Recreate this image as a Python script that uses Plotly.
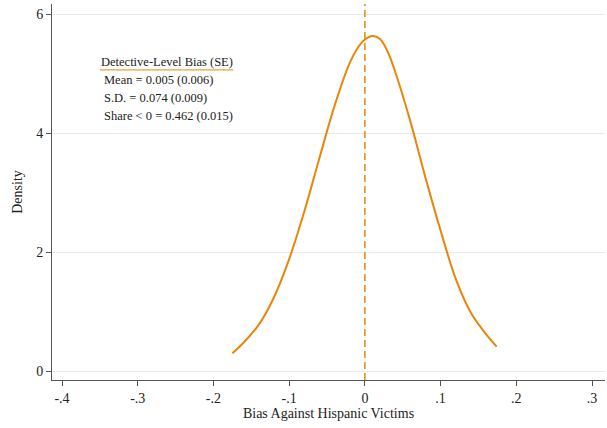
import plotly.graph_objects as go

# Kernel density of detective-level bias
bias_x = [-0.175, -0.16, -0.14, -0.12, -0.10, -0.08, -0.06, -0.04, -0.02, -0.01, 0.0, 0.01,
          0.02, 0.03, 0.04, 0.06, 0.08, 0.10, 0.12, 0.14, 0.16, 0.174]
density_y = [0.30, 0.48, 0.78, 1.24, 1.88, 2.68, 3.58, 4.46, 5.18, 5.42, 5.57, 5.63,
             5.58, 5.37, 5.03, 4.20, 3.25, 2.36, 1.55, 0.98, 0.62, 0.41]

x_ticks = [-0.4, -0.3, -0.2, -0.1, 0, 0.1, 0.2, 0.3]
x_tick_labels = ["-.4", "-.3", "-.2", "-.1", "0", ".1", ".2", ".3"]
y_ticks = [0, 2, 4, 6]
y_tick_labels = ["0", "2", "4", "6"]

legend_title = "Detective-Level Bias (SE)"
legend_lines = ["Mean = 0.005 (0.006)", "S.D. = 0.074 (0.009)", "Share < 0 = 0.462 (0.015)"]

ORANGE = "rgb(232,134,12)"
FONT = "Liberation Serif"

fig = go.Figure()
fig.add_trace(go.Scatter(x=bias_x, y=density_y, mode="lines",
                         line=dict(color=ORANGE, width=2, shape="spline", smoothing=1),
                         hoverinfo="skip", showlegend=False))

fig.add_shape(type="line", xref="x", yref="paper", x0=0, x1=0, y0=0, y1=1,
              line=dict(color=ORANGE, width=1.5, dash="7px,4px"))

# legend box text
fig.add_annotation(x=-0.351, y=5.19, xref="x", yref="y", text=legend_title,
                   showarrow=False, xanchor="left", yanchor="middle",
                   font=dict(family=FONT, size=12.5, color="#222"))
fig.add_shape(type="line", xref="x", yref="y", x0=-0.350, x1=-0.174, y0=5.06, y1=5.06,
              line=dict(color=ORANGE, width=1))
for i, t in enumerate(legend_lines):
    fig.add_annotation(x=-0.347, y=4.89 - 0.30 * i, xref="x", yref="y", text=t,
                       showarrow=False, xanchor="left", yanchor="middle",
                       font=dict(family=FONT, size=12.5, color="#222"))

fig.update_layout(
    width=607, height=428,
    margin=dict(l=52, r=2, t=4, b=48),
    plot_bgcolor="white", paper_bgcolor="white",
    font=dict(family=FONT, size=14, color="#222"),
    xaxis=dict(range=[-0.4132, 0.3171], tickvals=x_ticks, ticktext=x_tick_labels,
               showgrid=False, zeroline=False, showline=True, linecolor="#555", linewidth=1,
               ticks="outside", ticklen=5, tickcolor="#555",
               title=dict(text="Bias Against Hispanic Victims", standoff=2,
                          font=dict(family=FONT, size=14)),
               tickfont=dict(family=FONT, size=14)),
    yaxis=dict(range=[-0.151, 6.168], tickvals=y_ticks, ticktext=y_tick_labels,
               showgrid=True, gridcolor="rgb(234,234,234)", gridwidth=1,
               zeroline=False, showline=True, linecolor="#555", linewidth=1,
               ticks="outside", ticklen=5, tickcolor="#555",
               title=dict(text="Density", standoff=10, font=dict(family=FONT, size=14)),
               tickfont=dict(family=FONT, size=14)),
)

fig.write_html("out.html")
